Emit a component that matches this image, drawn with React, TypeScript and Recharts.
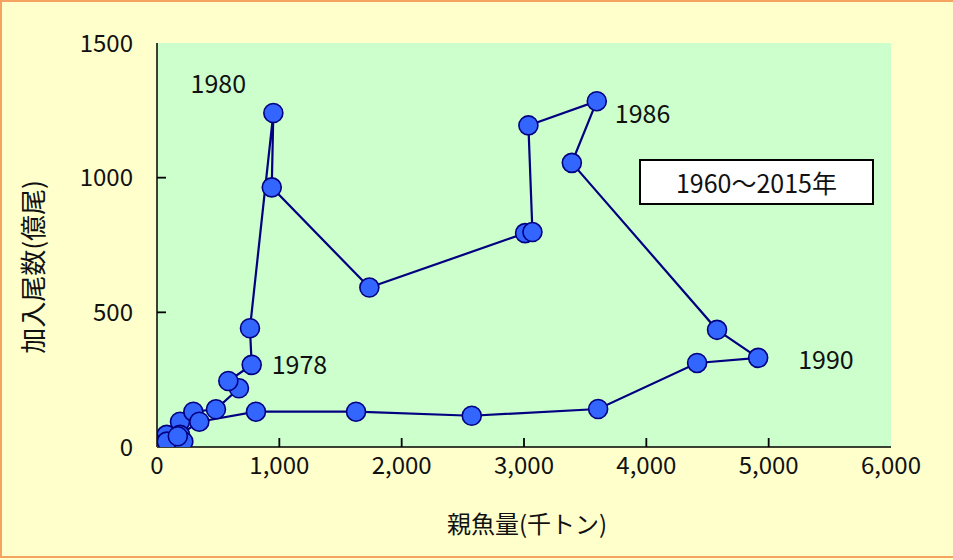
import { Scatter, ScatterChart, XAxis, YAxis } from 'recharts';

// 親魚量 (千トン) and 加入尾数 (億尾), in path order 1960 -> 2015
const ssb = [
  20, 12, 8, 30, 15, 40, 25, 52, 60, 79, 188, 297, 482, 670, 583, 774, 760, 951, 938, 1736,
  3009, 3069, 3036, 3595, 3391, 4578, 4914, 4415, 3606, 2573, 1627, 809, 346, 188, 133, 52,
  30, 18, 10, 25, 45, 80, 215, 170,
];
const recruits = [
  3, 2, 1, 5, 3, 4, 6, 2, 10, 45, 94, 131, 140, 218, 245, 305, 441, 1240, 964, 592,
  794, 798, 1194, 1284, 1055, 435, 331, 312, 141, 116, 131, 131, 94, 45, 14, 2,
  4, 3, 2, 5, 8, 20, 20, 40,
];
const pointNotes = [
  '', '', '', '', '', '', '', '', '', '', '', '', '', '', '', '1978', '', '1980', '', '',
  '', '', '', '1986', '', '', '1990', '', '', '', '', '', '', '', '', '',
  '', '', '', '', '', '', '', '',
];

const xTicks = [0, 1000, 2000, 3000, 4000, 5000, 6000];
const yTicks = [0, 500, 1000, 1500];
const periodLabel = '1960～2015年';
const xTitle = '親魚量(千トン)';
const yTitle = '加入尾数(億尾)';

const FONT = '"Noto Sans CJK JP", "Noto Sans", sans-serif';
const TICK_LEN = 9;

// plot box inside the 953x560 chart
const PLOT = { left: 157, top: 43, right: 891, bottom: 447 };

const noteOffsets: Record<string, { dx: number; dy: number; anchor: 'start' | 'middle' }> = {
  '1978': { dx: 20, dy: -2, anchor: 'start' },
  '1980': { dx: -55, dy: -31, anchor: 'middle' },
  '1986': { dx: 18, dy: 11, anchor: 'start' },
  '1990': { dx: 40, dy: 0, anchor: 'start' },
};

const data = ssb.map((x, i) => ({ x, y: recruits[i], note: pointNotes[i] }));
// inward tick marks, placed through the chart scales
const xTickMarks = xTicks.slice(1, -1).map((x) => ({ x, y: 0 }));
const yTickMarks = yTicks.slice(1, -1).map((y) => ({ x: 0, y }));

function Dot(props: any) {
  const { cx, cy, payload } = props;
  const note = payload?.note as string;
  const off = note ? noteOffsets[note] : null;
  return (
    <g>
      <circle cx={cx} cy={cy} r={9.5} fill="#3366ff" stroke="#000080" strokeWidth={1.6} />
      {off ? (
        <text
          x={cx + off.dx}
          y={cy + off.dy}
          textAnchor={off.anchor}
          dominantBaseline="central"
          fontSize={25}
          fontFamily={FONT}
          fill="#111"
        >
          {note}
        </text>
      ) : null}
    </g>
  );
}

const XTickMark = (props: any) => (
  <line x1={props.cx} x2={props.cx} y1={props.cy} y2={props.cy - TICK_LEN} stroke="#000" strokeWidth={1.8} />
);
const YTickMark = (props: any) => (
  <line x1={props.cx} x2={props.cx + TICK_LEN} y1={props.cy} y2={props.cy} stroke="#000" strokeWidth={1.8} />
);

export default function App() {
  return (
    <div
      style={{
        position: 'absolute',
        left: 0,
        top: 0,
        width: 953,
        height: 560,
        background: '#ffffcc',
        fontFamily: FONT,
      }}
    >
      <div
        style={{
          position: 'absolute',
          left: PLOT.left,
          top: PLOT.top,
          width: PLOT.right - PLOT.left,
          height: PLOT.bottom - PLOT.top,
          background: '#ccffcc',
        }}
      />
      <div style={{ position: 'absolute', left: 0, top: 0 }}>
        <ScatterChart
          width={953}
          height={560}
          margin={{ top: PLOT.top, right: 953 - PLOT.right, bottom: 560 - PLOT.bottom - 60, left: 0 }}
        >
          <XAxis
            type="number"
            dataKey="x"
            domain={[0, 6000]}
            ticks={xTicks}
            height={60}
            tickSize={0}
            tickMargin={10}
            axisLine={{ stroke: '#000', strokeWidth: 1.5 }}
            tickLine={false}
            tick={{ fill: '#111', fontSize: 24, fontFamily: FONT }}
            tickFormatter={(v: number) => v.toLocaleString('en-US')}
            interval={0}
            allowDataOverflow
          />
          <XAxis
            xAxisId="top"
            orientation="top"
            type="number"
            domain={[0, 6000]}
            height={0}
            tick={false}
            tickLine={false}
            axisLine={{ stroke: '#000', strokeWidth: 1.5 }}
          />
          <YAxis
            type="number"
            dataKey="y"
            domain={[0, 1500]}
            ticks={yTicks}
            width={PLOT.left}
            tickSize={0}
            tickMargin={24}
            axisLine={{ stroke: '#000', strokeWidth: 1.5 }}
            tickLine={false}
            tick={{ fill: '#111', fontSize: 24, fontFamily: FONT }}
            interval={0}
            allowDataOverflow
          />
          <YAxis
            yAxisId="right"
            orientation="right"
            type="number"
            domain={[0, 1500]}
            width={0}
            tick={false}
            tickLine={false}
            axisLine={{ stroke: '#000', strokeWidth: 1.5 }}
          />
          <Scatter data={xTickMarks} shape={<XTickMark />} isAnimationActive={false} />
          <Scatter data={yTickMarks} shape={<YTickMark />} isAnimationActive={false} />
          <Scatter
            data={data}
            line={{ stroke: '#000080', strokeWidth: 2.2 }}
            shape={<Dot />}
            isAnimationActive={false}
          />
        </ScatterChart>
      </div>

      <div
        style={{
          position: 'absolute',
          left: 639,
          top: 159,
          width: 235,
          height: 46,
          boxSizing: 'border-box',
          border: '2px solid #000',
          background: '#fff',
          display: 'flex',
          alignItems: 'center',
          justifyContent: 'center',
          fontSize: 25,
          color: '#111',
        }}
      >
        {periodLabel}
      </div>

      <div
        style={{
          position: 'absolute',
          left: 527,
          top: 522,
          transform: 'translate(-50%, -50%)',
          fontSize: 24,
          color: '#111',
          whiteSpace: 'nowrap',
        }}
      >
        {xTitle}
      </div>

      <div
        style={{
          position: 'absolute',
          left: 31,
          top: 267,
          transform: 'translate(-50%, -50%) rotate(-90deg)',
          fontSize: 26,
          color: '#111',
          whiteSpace: 'nowrap',
        }}
      >
        {yTitle}
      </div>

      <div
        style={{
          position: 'absolute',
          left: 0,
          top: 0,
          width: 953,
          height: 558,
          boxSizing: 'border-box',
          borderTop: '2px solid #f4a460',
          borderLeft: '2px solid #f4a460',
          borderBottom: '2px solid #f4a460',
          pointerEvents: 'none',
        }}
      />
    </div>
  );
}
